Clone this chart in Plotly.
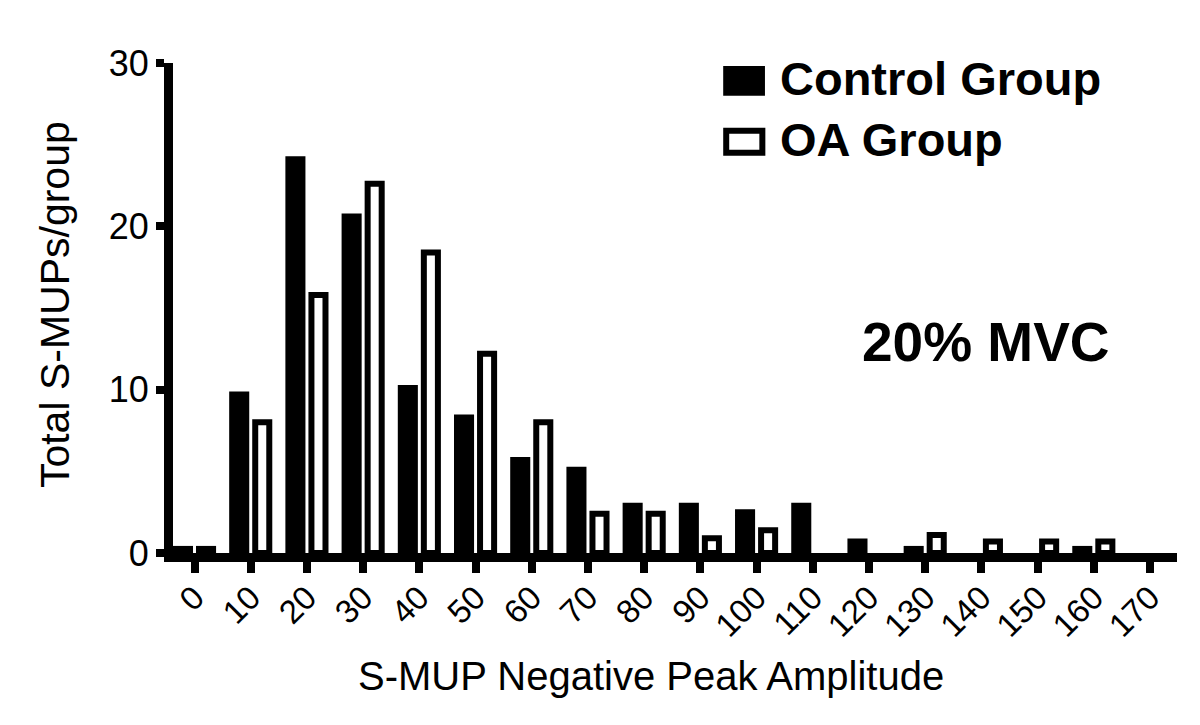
import plotly.graph_objects as go

# Data
bins = [0, 10, 20, 30, 40, 50, 60, 70, 80, 90, 100, 110, 120, 130, 140, 150, 160, 170]
control = [0.25, 9.7, 24.1, 20.6, 10.1, 8.3, 5.7, 5.1, 2.9, 2.9, 2.5, 2.9, 0.7, 0.25, 0, 0, 0.25, 0]
oa = [0.25, 8.0, 15.8, 22.6, 18.4, 12.2, 8.0, 2.4, 2.4, 0.9, 1.4, 0, 0, 1.1, 0.7, 0.7, 0.7, 0]
tick_labels = [str(b) for b in bins]
y_ticks = [0, 10, 20, 30]

FONT = "Liberation Sans, Arial, sans-serif"


def hide_zero(vals):
    return [v if v else None for v in vals]


fig = go.Figure()
fig.add_trace(go.Bar(x=bins, y=hide_zero(control), name="Control Group",
                     marker=dict(color="black", line=dict(color="black", width=6))))
fig.add_trace(go.Bar(x=bins, y=hide_zero(oa), name="OA Group",
                     marker=dict(color="white", line=dict(color="black", width=6))))

fig.update_layout(
    width=1200, height=725,
    margin=dict(l=165, r=31, t=55, b=180, autoexpand=False),
    paper_bgcolor="white", plot_bgcolor="white",
    barmode="group", bargap=0.18, bargroupgap=0.39,
    showlegend=False,
    font=dict(family=FONT, color="black"),
)
fig.update_xaxes(
    range=[-3.83, 174.8], tickmode="array", tickvals=bins, ticktext=tick_labels,
    tickangle=-45, tickfont=dict(size=33, family=FONT, color="black"),
    ticklabelstandoff=-8,
    showline=True, linecolor="black", linewidth=9,
    ticks="outside", ticklen=11, tickwidth=8, tickcolor="black",
    showgrid=False, zeroline=False, fixedrange=True,
)
fig.update_yaxes(
    range=[0, 30], tickmode="array", tickvals=y_ticks,
    tickfont=dict(size=36, family=FONT, color="black"),
    showline=True, linecolor="black", linewidth=9,
    ticks="outside", ticklen=8, tickwidth=8, tickcolor="black",
    showgrid=False, zeroline=False, fixedrange=True,
)

# Axis titles
fig.add_annotation(text="S-MUP Negative Peak Amplitude", xref="paper", yref="paper",
                   x=0.476, y=-0.25, xanchor="center", yanchor="middle",
                   showarrow=False, font=dict(size=40, family=FONT, color="black"))
fig.add_annotation(text="Total S-MUPs/group", xref="paper", yref="paper",
                   x=-0.118, y=0.507, xanchor="center", yanchor="middle", textangle=-90,
                   showarrow=False, font=dict(size=41, family=FONT, color="black"))

# Legend (custom, large)
fig.add_shape(type="rect", xref="paper", yref="paper", x0=0.548, x1=0.5896, y0=0.933, y1=0.994,
              fillcolor="black", line=dict(color="black", width=0))
fig.add_shape(type="rect", xref="paper", yref="paper", x0=0.551, x1=0.587, y0=0.817, y1=0.8615,
              fillcolor="white", line=dict(color="black", width=6))
fig.add_annotation(text="<b>Control Group</b>", xref="paper", yref="paper",
                   x=0.6026, y=0.968, xanchor="left", yanchor="middle", showarrow=False,
                   font=dict(size=47, family=FONT, color="black"))
fig.add_annotation(text="<b>OA Group</b>", xref="paper", yref="paper",
                   x=0.6026, y=0.843, xanchor="left", yanchor="middle", showarrow=False,
                   font=dict(size=47, family=FONT, color="black"))

fig.add_annotation(text="<b>20% MVC</b>", xref="paper", yref="paper",
                   x=0.81, y=0.43, xanchor="center", yanchor="middle", showarrow=False,
                   font=dict(size=55, family=FONT, color="black"))

fig.write_html("out.html")
